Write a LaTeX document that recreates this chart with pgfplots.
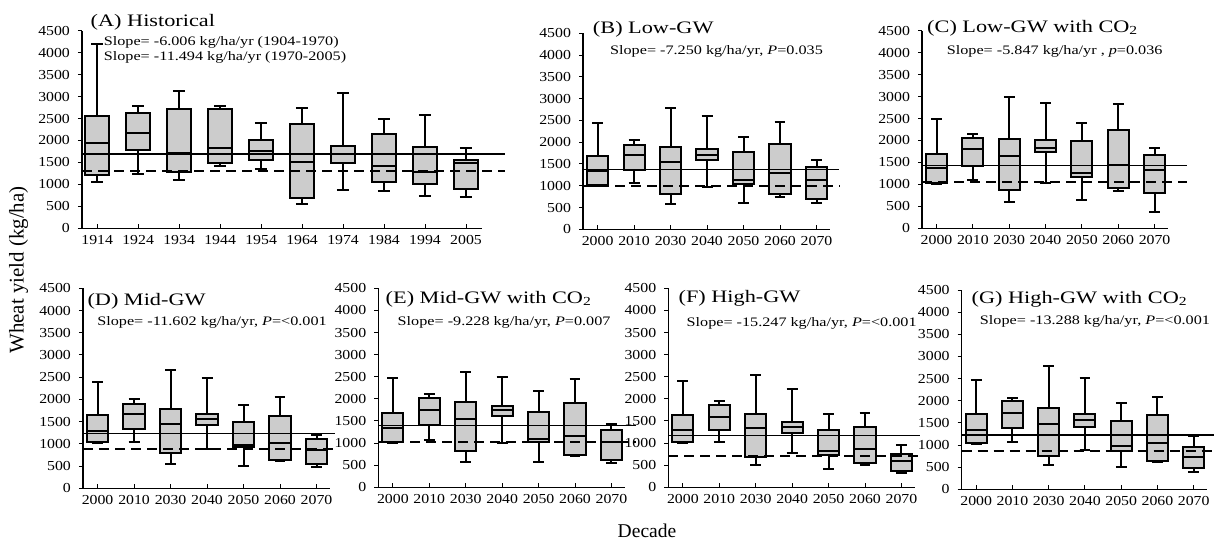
\documentclass[border=0pt]{standalone}
\usepackage{pgfplots}
\pgfplotsset{compat=1.18}
\usepackage{pgfplotstable}
\usepgfplotslibrary{statistics}
\usepackage{fontspec}
\setmainfont{Liberation Serif}

\definecolor{boxgray}{gray}{0.8}

\newcommand{\tickfont}{\fontsize{6.9}{7}\selectfont}
\newcommand{\titlefont}{\fontsize{8.8}{10}\selectfont}
\newcommand{\slopefont}{\fontsize{6.5}{7}\selectfont}

% columns: lower whisker, lower quartile, median, upper quartile, upper whisker
\pgfplotstableread{
lw   lq   med  uq   uw
1050 1220 1950 2550 4200
1230 1780 2160 2620 2780
1090 1290 1720 2720 3130
1420 1490 1820 2720 2780
1350 1560 1770 2000 2390
560  700  1520 2370 2730
880  1490 1700 1880 3080
860  1050 1420 2150 2500
730  1020 1290 1850 2590
710  900  1480 1560 1840
}\tA
\pgfplotstableread{
lw   lq   med  uq   uw
990  1010 1340 1680 2430
1070 1370 1710 1940 2060
580  820  1540 1890 2780
970  1600 1710 1850 2610
610  1050 1140 1770 2130
740  820  1300 1950 2460
610  690  1140 1440 1600
}\tB
\pgfplotstableread{
lw   lq   med  uq   uw
1020 1040 1380 1700 2500
1090 1430 1800 2060 2140
610  870  1650 2040 3000
1040 1740 1830 2020 2850
650  1160 1270 1990 2390
840  910  1450 2240 2820
380  800  1330 1680 1840
}\tC
\pgfplotstableread{
lw   lq   med  uq   uw
1010 1040 1300 1650 2390
1040 1330 1665 1900 2020
545  800  1440 1780 2660
885  1430 1550 1675 2480
505  930  980  1490 1880
620  645  1020 1625 2065
470  540  870  1100 1210
}\tD
\pgfplotstableread{
lw   lq   med  uq   uw
1010 1020 1350 1680 2470
1070 1400 1750 2030 2100
565  830  1550 1930 2610
995  1615 1740 1845 2495
565  1035 1090 1700 2170
710  735  1170 1910 2455
540  620  1030 1300 1430
}\tE
\pgfplotstableread{
lw   lq   med  uq   uw
995  1020 1300 1640 2395
1020 1300 1600 1850 1960
505  695  1335 1660 2545
770  1236 1375 1485 2225
420  720  825  1285 1660
495  545  860  1375 1690
320  380  585  750  950
}\tF
\pgfplotstableread{
lw   lq   med  uq   uw
1025 1055 1345 1690 2470
1075 1395 1720 1985 2070
550  755  1465 1830 2795
880  1400 1565 1705 2505
510  865  985  1545 1955
615  650  1045 1680 2090
395  475  735  965  1200
}\tG

% one box per table row, drawn at x = row index
\newcommand{\drawboxes}[2]{%
  \pgfplotsinvokeforeach{0,...,#2}{%
    \pgfplotstablegetelem{##1}{lw}\of#1\let\vlw\pgfplotsretval
    \pgfplotstablegetelem{##1}{lq}\of#1\let\vlq\pgfplotsretval
    \pgfplotstablegetelem{##1}{med}\of#1\let\vmed\pgfplotsretval
    \pgfplotstablegetelem{##1}{uq}\of#1\let\vuq\pgfplotsretval
    \pgfplotstablegetelem{##1}{uw}\of#1\let\vuw\pgfplotsretval
    \edef\tmp{\noexpand\addplot[black, boxplot prepared={draw position=##1,
      lower whisker=\vlw, lower quartile=\vlq, median=\vmed,
      upper quartile=\vuq, upper whisker=\vuw}] coordinates {};}%
    \tmp
  }%
}

\pgfplotsset{
  panel/.style={
    scale only axis, anchor=south west,
    axis lines*=left, axis line style={line width=0.6bp},
    ymin=0, ymax=4500, ytick={0,500,...,4500},
    scaled y ticks=false,
    /pgf/number format/1000 sep={},
    /pgf/number format/assume math mode=true,
    tick label style={font=\tickfont, xscale=1.15},
    major tick length=2bp,
    tick style={line width=0.5bp, black},
    xtick align=inside, ytick align=outside,
    clip=false,
    xmin=-0.4, xmax=6.37, xtick={0,...,6},
    xticklabels={2000,2010,2030,2040,2050,2060,2070},
    width=123.5bp, height=99bp,
    boxplot/draw direction=y,
    boxplot/box extend=0.58,
    boxplot/whisker extend=0.3,
    boxplot/every box/.style={draw=black, fill=boxgray, line width=1bp},
    boxplot/every median/.style={line width=1bp},
    boxplot/every whisker/.style={line width=1bp},
  },
  avg/.style={black, line width=0.8bp},
  base/.style={black, line width=1bp, dash pattern=on 5bp off 3bp},
}
\tikzset{
  ttl/.style={anchor=base west, inner sep=0pt, font=\titlefont, xscale=1.27},
  slp/.style={anchor=base west, inner sep=0pt, font=\slopefont, xscale=1.25},
}

\begin{document}
\begin{tikzpicture}
\useasboundingbox (0,0) rectangle (607bp,-271.5bp);

% (A)
\begin{axis}[panel, at={(41bp,-114.15bp)}, width=200bp, height=98.8bp,
  xmin=-0.37, xmax=9.39, xtick={0,...,9},
  xticklabels={1914,1924,1934,1944,1954,1964,1974,1984,1994,2005}]
  \drawboxes{\tA}{9}
  \addplot[avg] coordinates {(-0.37,1690) (9.95,1690)};
  \addplot[base] coordinates {(-0.37,1305) (9.95,1305)};
  \node[ttl] at (axis cs:-0.17,4591) {(A) Historical};
  \node[slp] at (axis cs:0.15,4158) {Slope= -6.006 kg/ha/yr (1904-1970)};
  \node[slp] at (axis cs:0.15,3817) {Slope= -11.494 kg/ha/yr (1970-2005)};
\end{axis}

% (B)
\begin{axis}[panel, at={(291.5bp,-114.65bp)}, height=98bp]
  \drawboxes{\tB}{6}
  \addplot[avg] coordinates {(-0.4,1370) (6.63,1370)};
  \addplot[base] coordinates {(-0.4,995) (6.63,995)};
  \node[ttl] at (axis cs:-0.14,4500) {(B) Low-GW};
  \node[slp] at (axis cs:0.33,4002) {Slope= -7.250 kg/ha/yr, \textit{P}=0.035};
\end{axis}

% (C)
\begin{axis}[panel, at={(461bp,-114.15bp)}, width=123bp, height=98.8bp]
  \drawboxes{\tC}{6}
  \addplot[avg] coordinates {(-0.4,1430) (6.9,1430)};
  \addplot[base] coordinates {(-0.4,1050) (6.9,1050)};
  \node[ttl] at (axis cs:-0.27,4448) {(C) Low-GW with CO\textsubscript{2}};
  \node[slp] at (axis cs:0.27,3969) {Slope= -5.847 kg/ha/yr , \textit{p}=0.036};
\end{axis}

% (D)
\begin{axis}[panel, at={(41.5bp,-244.15bp)}, height=100bp]
  \drawboxes{\tD}{6}
  \addplot[avg] coordinates {(-0.4,1235) (6.5,1235)};
  \addplot[base] coordinates {(-0.4,885) (6.5,885)};
  \node[ttl] at (axis cs:-0.29,4124) {(D) Mid-GW};
  \node[slp] at (axis cs:-0.02,3674) {Slope= -11.602 kg/ha/yr, \textit{P}=<0.001};
\end{axis}

% (E)
\begin{axis}[panel, at={(189.15bp,-243.65bp)}, width=123.3bp, height=99.5bp]
  \drawboxes{\tE}{6}
  \addplot[avg] coordinates {(-0.4,1395) (6.68,1395)};
  \addplot[base] coordinates {(-0.4,1018) (6.68,1018)};
  \node[ttl] at (axis cs:-0.21,4160) {(E) Mid-GW with CO\textsubscript{2}};
  \node[slp] at (axis cs:0.12,3670) {Slope= -9.228 kg/ha/yr, \textit{P}=0.007};
\end{axis}

% (F)
\begin{axis}[panel, at={(334.15bp,-243.65bp)}, width=123.3bp, height=99.5bp]
  \drawboxes{\tF}{6}
  \addplot[avg] coordinates {(-0.4,1168) (6.5,1168)};
  \addplot[base] coordinates {(-0.4,700) (6.5,700)};
  \node[ttl] at (axis cs:-0.13,4190) {(F) High-GW};
  \node[slp] at (axis cs:0.09,3632) {Slope= -15.247 kg/ha/yr, \textit{P}=<0.001};
\end{axis}

% (G)
\begin{axis}[panel, at={(480.85bp,-244.65bp)}, width=122.7bp, height=99.65bp]
  \drawboxes{\tG}{6}
  \addplot[avg] coordinates {(-0.4,1225) (6.6,1225)};
  \addplot[base] coordinates {(-0.4,865) (6.6,865)};
  \node[ttl] at (axis cs:-0.14,4206) {(G) High-GW with CO\textsubscript{2}};
  \node[slp] at (axis cs:0.09,3725) {Slope= -13.288 kg/ha/yr, \textit{P}=<0.001};
\end{axis}

\node[rotate=90, font=\fontsize{10.5}{12}\selectfont] at (9.25bp,-135bp) {Wheat yield (kg/ha)};
\node[font=\fontsize{9.8}{11}\selectfont] at (323.5bp,-265.5bp) {Decade};
\end{tikzpicture}
\end{document}
